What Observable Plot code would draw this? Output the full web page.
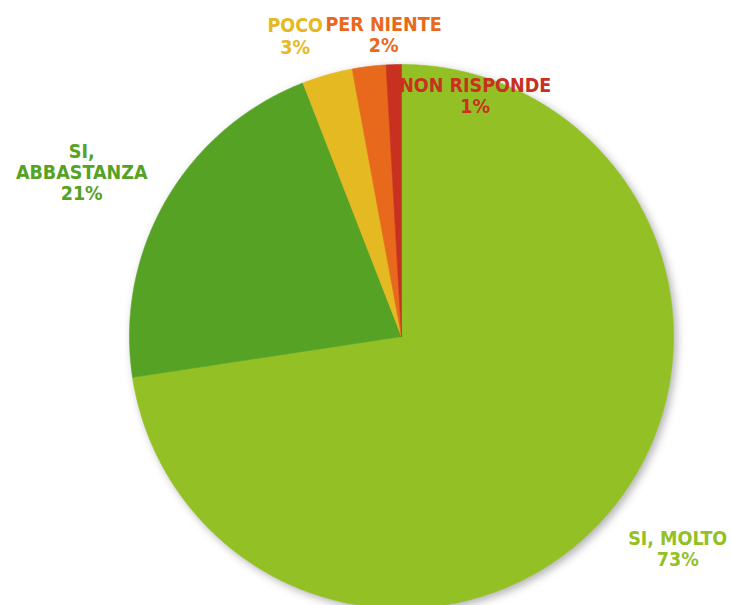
<!DOCTYPE html>
<html><head><meta charset="utf-8">
<script src="https://cdn.jsdelivr.net/npm/d3@7"></script>
<script src="https://cdn.jsdelivr.net/npm/@observablehq/plot@0.6"></script>
<style>body{margin:0;background:#fff}</style>
</head><body><div id="chart"></div>
<script>
const categories = ["SI, MOLTO", "SI, ABBASTANZA", "POCO", "PER NIENTE", "NON RISPONDE"];
const values = [72.6, 21.5, 3.0, 2.0, 0.9];
const labelTexts = ["SI, MOLTO\n73%", "SI,\nABBASTANZA\n21%", "POCO\n3%", "PER NIENTE\n2%", "NON RISPONDE\n1%"];
const colors = ["#93c125", "#55a225", "#e5b921", "#e8691b", "#c8311f"];

// layout: label direction (degrees clockwise from 12 o'clock) and distance in radii
const labelAngle = [127.5, 297.2, 340.5, 356.6, 17.0];
const labelDist = [1.28, 1.322, 1.171, 1.111, 0.927];

const W = 731, H = 605, cx = 401, cy = 336, R = 272;

const total = d3.sum(values);
const pts = [];
let acc = 0;
categories.forEach((c, i) => {
  const a0 = acc / total * 2 * Math.PI;
  acc += values[i];
  const a1 = acc / total * 2 * Math.PI;
  pts.push({cat: c, x: 0, y: 0});
  const n = Math.max(2, Math.ceil((a1 - a0) / (Math.PI / 360)));
  for (let k = 0; k <= n; k++) {
    const a = a0 + (a1 - a0) * k / n;
    pts.push({cat: c, x: Math.sin(a), y: Math.cos(a)});
  }
  pts.push({cat: c, x: 0, y: 0});
});

const labels = categories.map((c, i) => {
  const a = labelAngle[i] * Math.PI / 180;
  return {cat: c, text: labelTexts[i], x: labelDist[i] * Math.sin(a), y: labelDist[i] * Math.cos(a)};
});

const chart = Plot.plot({
  width: W, height: H,
  margin: 0,
  x: {domain: [-cx / R, (W - cx) / R], axis: null},
  y: {domain: [-(H - cy) / R, cy / R], axis: null},
  color: {domain: categories, range: colors},
  style: {background: "#fff"},
  marks: [
    Plot.line(pts, {x: "x", y: "y", z: "cat", fill: "cat", stroke: "cat", strokeWidth: 0.6, curve: "linear-closed"}),
    Plot.text(labels, {x: "x", y: "y", text: "text", fill: "cat", fontSize: 19.5, fontWeight: "bold",
      fontFamily: "'DejaVu Sans Condensed', 'DejaVu Sans', sans-serif", lineHeight: 1.1, textAnchor: "middle"})
  ]
});
d3.select(chart).select("g[aria-label=line]").style("filter", "drop-shadow(3px 3px 4px rgba(0,0,0,0.3))");
document.getElementById("chart").appendChild(chart);
</script>
</body></html>
